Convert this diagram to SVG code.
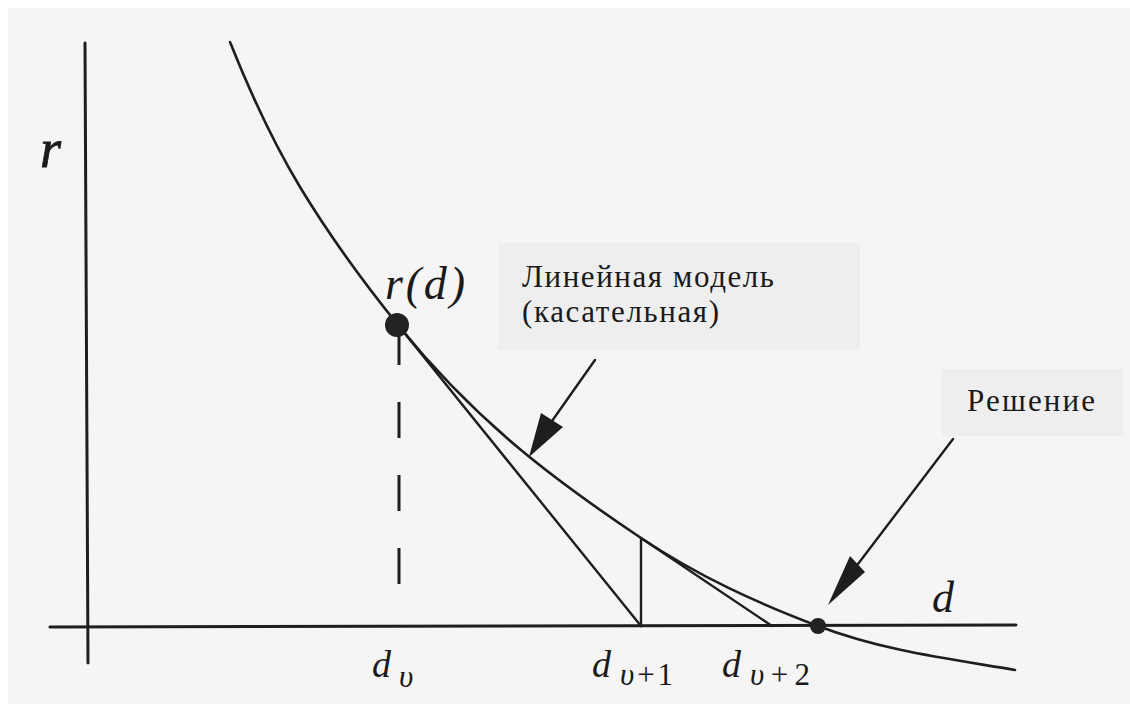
<svg xmlns="http://www.w3.org/2000/svg" width="1130" height="704" viewBox="0 0 1130 704">
<style>
.ln{stroke:#1e1e1e;fill:none;stroke-linecap:round}
.ax{stroke-width:3}
.cv{stroke-width:2.6}
.tg{stroke-width:2.4}
.dash{stroke-width:3;stroke-dasharray:36 37;stroke-linecap:butt}
.lbl{font-family:'Liberation Serif',serif;fill:#1a1a1a;font-size:31px}
.math{font-family:'Liberation Serif',serif;font-style:italic;fill:#1a1a1a}
.sub{font-family:'Liberation Serif',serif;fill:#1a1a1a;font-size:31px}
.box{fill:#eeeeee}
.head{fill:#1e1e1e}
.pt{fill:#222222}
</style>
<rect x="0" y="0" width="1130" height="704" fill="#ffffff"/>
<rect x="8" y="8" width="1122" height="696" fill="#f5f5f5"/>

<g id="axes">
  <line class="ln ax" x1="85" y1="43" x2="88" y2="663"/>
  <line class="ln ax" x1="50" y1="627" x2="1016" y2="625"/>
  <text class="math" x="40" y="167" font-size="54" stroke="#1a1a1a" stroke-width="0.8">r</text>
  <text class="math" x="932" y="612" font-size="44">d</text>
</g>

<g id="curve">
  <path class="ln cv" d="M230,42 C253.3,100.3 276.7,148.5 300,187 C332.7,241 365.3,284.5 398,325 C479,425.4 560,483.7 641,538 C700,577.5 759,603.6 818,626 C883.7,651 949.3,658.8 1015,670"/>
</g>

<g id="tangents">
  <line class="ln tg" x1="398" y1="325" x2="641" y2="626"/>
  <line class="ln tg" x1="641" y1="626" x2="641" y2="538"/>
  <line class="ln tg" x1="641" y1="538" x2="772" y2="626"/>
  <line class="ln dash" x1="399" y1="329" x2="399" y2="585"/>
</g>

<g id="point-rd">
  <circle class="pt" cx="397" cy="325" r="12"/>
  <text class="math" x="385" y="299" font-size="46" textLength="80" lengthAdjust="spacing">r(d)</text>
</g>

<g id="point-solution">
  <circle class="pt" cx="818" cy="626" r="8"/>
</g>

<g id="label-dv">
  <text class="math" x="372" y="677" font-size="38">d</text>
  <text class="math" x="399" y="687" font-size="31">υ</text>
</g>
<g id="label-dv1">
  <text class="math" x="592" y="677" font-size="38">d</text>
  <text class="sub" x="620" y="685" textLength="53" lengthAdjust="spacing"><tspan font-style="italic">υ</tspan>+1</text>
</g>
<g id="label-dv2">
  <text class="math" x="722" y="677" font-size="38">d</text>
  <text class="sub" x="750" y="685" textLength="60" lengthAdjust="spacing"><tspan font-style="italic">υ</tspan>+2</text>
</g>

<g id="node-linear-model">
  <rect class="box" x="498" y="243" width="362" height="107"/>
  <text class="lbl" x="522" y="287" textLength="252" lengthAdjust="spacing">Линейная модель</text>
  <text class="lbl" x="522" y="322" textLength="197" lengthAdjust="spacing">(касательная)</text>
</g>

<g id="node-solution">
  <rect class="box" x="942" y="369" width="181" height="67"/>
  <text class="lbl" x="967" y="411" textLength="128" lengthAdjust="spacing">Решение</text>
</g>

<g id="connectors">
  <line class="ln tg" x1="595" y1="360" x2="552" y2="421"/>
  <polygon class="head" points="541,413 563,427 529,457"/>
  <line class="ln tg" x1="953" y1="439" x2="858" y2="564"/>
  <polygon class="head" points="850,556 865,572 828,605"/>
</g>
</svg>
